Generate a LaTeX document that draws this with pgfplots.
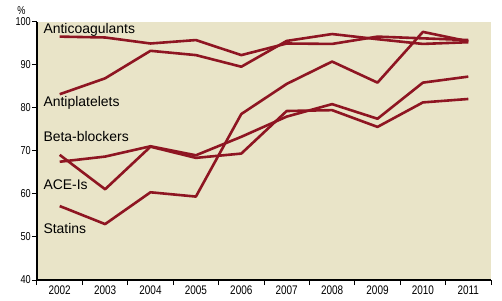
\documentclass[border=0pt]{standalone}
\usepackage{fontspec}
\usepackage{pgfplots}
\pgfplotsset{compat=1.18}
\setmainfont{Liberation Sans}
\newfontfamily\narrow[FakeStretch=0.8]{Liberation Sans}
\definecolor{bg}{HTML}{E9E4C8}
\definecolor{ln}{HTML}{8E1522}
\tikzset{myline/.style={draw=ln, line width=2.6bp, line join=round, mark=none}}
\begin{document}
\begin{tikzpicture}
\path[use as bounding box] (0,0) rectangle (502bp,301bp);
\begin{axis}[
  scale only axis,
  width=454bp, height=258bp,
  anchor=south west, at={(37bp,21bp)},
  xmin=-0.5, xmax=9.5, ymin=40, ymax=100,
  axis background/.style={fill=bg, draw=none},
  axis x line=bottom, axis y line=left,
  axis line style={-, black, line width=1.6bp},
  xtick={0,...,9},
  xticklabels={2002,2003,2004,2005,2006,2007,2008,2009,2010,2011},
  major x tick style={draw=none},
  minor xtick={-0.5,0.5,1.5,2.5,3.5,4.5,5.5,6.5,7.5,8.5,9.5},
  minor x tick style={black, line width=1bp},
  ytick={40,50,...,100},
  y tick style={black, line width=1bp},
  tick align=outside,
  major tick length=5bp, minor tick length=5bp,
  xticklabel style={font=\narrow\fontsize{12.5}{13}\selectfont, inner sep=1bp},
  yticklabel style={font=\narrow\fontsize{11.5}{12}\selectfont, inner sep=1bp},
  /pgf/number format/assume math mode=true,
  clip=false,
]
% Anticoagulants
\addplot[myline] coordinates {(0,96.6)(1,96.4)(2,95.0)(3,95.8)(4,92.3)(5,95.0)(6,94.9)(7,96.6)(8,96.2)(9,95.8)};
% Antiplatelets
\addplot[myline] coordinates {(0,83.2)(1,86.9)(2,93.3)(3,92.3)(4,89.6)(5,95.6)(6,97.2)(7,96.0)(8,94.9)(9,95.3)};
% Beta-blockers
\addplot[myline] coordinates {(0,67.5)(1,68.7)(2,71.1)(3,69.0)(4,73.3)(5,78.0)(6,80.9)(7,77.5)(8,85.9)(9,87.3)};
% ACE-Is
\addplot[myline] coordinates {(0,69.1)(1,61.1)(2,71.0)(3,68.4)(4,69.4)(5,79.3)(6,79.5)(7,75.6)(8,81.3)(9,82.1)};
% Statins
\addplot[myline] coordinates {(0,57.2)(1,53.0)(2,60.4)(3,59.4)(4,78.6)(5,85.6)(6,90.8)(7,85.9)(8,97.7)(9,95.5)};
\begin{scope}[every node/.style={anchor=base west, inner sep=0pt, font=\fontsize{14}{16}\selectfont}]
\node at (axis cs:-0.361,97.4) {Anticoagulants};
\node at (axis cs:-0.361,80.3) {Antiplatelets};
\node at (axis cs:-0.361,72.1) {Beta-blockers};
\node at (axis cs:-0.361,61.05) {ACE-Is};
\node at (axis cs:-0.361,50.8) {Statins};
\end{scope}
\node[anchor=center, inner sep=0pt, font=\narrow\fontsize{11.5}{12}\selectfont] at ([xshift=-15.5bp, yshift=11bp]axis cs:-0.5,100) {\%};
\end{axis}
\end{tikzpicture}
\end{document}
